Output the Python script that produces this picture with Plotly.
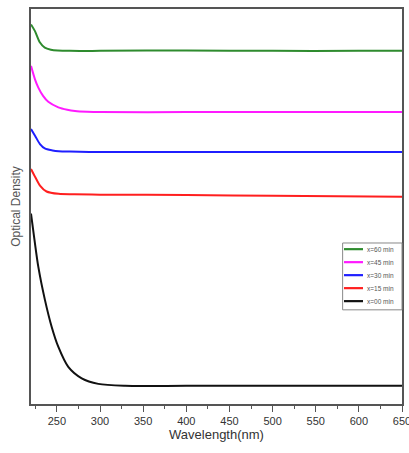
import plotly.graph_objects as go

# Absorbance spectra (arbitrary units, curves offset for clarity)
wl_60 = [220, 224.6, 230.4, 236, 243, 251, 265, 300, 400, 500, 600, 650]
od_60 = [96.1, 94.4, 91.5, 90.2, 89.7, 89.5, 89.4, 89.4, 89.5, 89.4, 89.4, 89.4]

wl_45 = [220, 224.6, 228.5, 234, 240, 251.7, 262, 271, 285, 300, 400, 500, 650]
od_45 = [85.6, 82.2, 80.1, 78.0, 76.5, 75.1, 74.5, 74.2, 74.0, 73.9, 73.9, 73.9, 73.9]

wl_30 = [220, 225, 230.4, 236, 245, 252, 265, 300, 400, 650]
od_30 = [69.6, 67.8, 65.8, 64.7, 64.2, 64.0, 63.9, 63.8, 63.8, 63.8]

wl_15 = [220, 225, 230.4, 238, 252, 270, 300, 400, 500, 650]
od_15 = [59.5, 57.4, 55.3, 53.8, 53.2, 53.1, 53.0, 52.9, 52.7, 52.5]

wl_00 = [220, 224, 228.5, 236.2, 244, 251.6, 263.2, 278.8, 298, 329, 400, 500, 650]
od_00 = [48.2, 41.6, 34.7, 26.3, 19.5, 14.5, 9.4, 6.5, 5.1, 4.6, 4.6, 4.6, 4.6]

series = [
    ("x=60 min", wl_60, od_60, "#2e8b2e"),
    ("x=45 min", wl_45, od_45, "#ff1aff"),
    ("x=30 min", wl_30, od_30, "#1f1fff"),
    ("x=15 min", wl_15, od_15, "#ff1f1f"),
    ("x=00 min", wl_00, od_00, "#111111"),
]

tick_vals = [250, 300, 350, 400, 450, 500, 550, 600, 650]
tick_text = ["250", "300", "350", "400", "450", "500", "550", "600", "650"]

fig = go.Figure()
for name, wl, od, color in series:
    fig.add_trace(go.Scatter(
        x=wl, y=od, mode="lines", name=name, showlegend=False,
        line=dict(color=color, width=2, shape="spline", smoothing=0.8),
    ))

# Compact legend box drawn in paper coordinates
leg_x0, leg_x1 = 0.840, 1.0
leg_top = 0.4076
row_gap = 0.0329
first_row = 0.392
rows = len(series)
leg_bottom = first_row - row_gap * (rows - 1) - 0.022
fig.add_shape(type="rect", xref="paper", yref="paper",
              x0=leg_x0, x1=leg_x1, y0=leg_bottom, y1=leg_top,
              line=dict(color="#888888", width=1), fillcolor="white", layer="above")
for i, (name, _, _, color) in enumerate(series):
    yy = first_row - i * row_gap
    fig.add_shape(type="line", xref="paper", yref="paper",
                  x0=0.8437, x1=0.8949, y0=yy, y1=yy,
                  line=dict(color=color, width=2.2), layer="above")
    fig.add_annotation(x=0.9003, y=yy, xref="paper", yref="paper",
                       text=name, showarrow=False, xanchor="left", yanchor="middle",
                       font=dict(size=6.5, color="#555555"))

axis_col = "#555555"
fig.update_layout(
    width=409, height=453,
    margin=dict(l=31, r=7, t=9, b=49, autoexpand=False),
    paper_bgcolor="white", plot_bgcolor="white",
    font=dict(family="Arial, Liberation Sans, sans-serif", color="#333333"),
    showlegend=False,
    xaxis=dict(
        range=[220, 650], tickvals=tick_vals, ticktext=tick_text,
        ticks="outside", ticklen=6, tickwidth=1.2, tickcolor=axis_col,
        minor=dict(dtick=25, tick0=225, ticks="outside", ticklen=3, tickcolor=axis_col),
        showgrid=False, zeroline=False, ticklabeloverflow="allow", automargin=False,
        showline=True, linecolor=axis_col, linewidth=2, mirror=True,
        tickfont=dict(size=11, color="#333333"),
        title=dict(text="Wavelength(nm)", font=dict(size=13, color="#333333"), standoff=2),
    ),
    yaxis=dict(
        range=[0, 100], showticklabels=False, ticks="", automargin=False,
        showgrid=False, zeroline=False,
        showline=True, linecolor=axis_col, linewidth=2, mirror=True,
        title=dict(text="Optical Density", font=dict(size=12, color="#555555"), standoff=6),
    ),
)

fig.write_html("out.html")
